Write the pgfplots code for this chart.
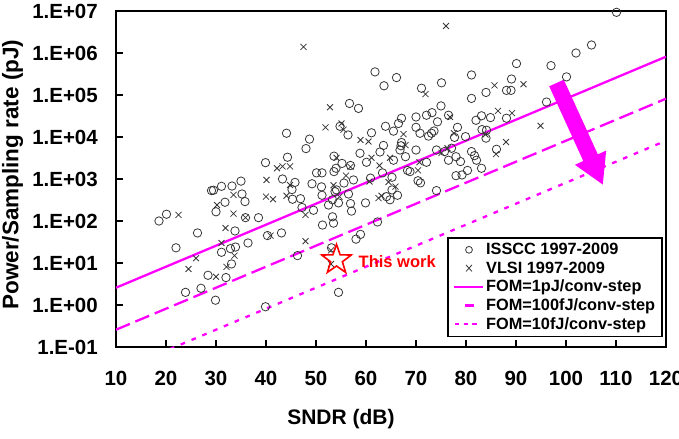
\documentclass[border=0pt]{standalone}
\usepackage{fontspec}
\setmainfont{Liberation Sans}
\usepackage{pgfplots}
\usepackage{pgfplotstable}
\pgfplotsset{compat=1.18}
\usetikzlibrary{arrows.meta}

\definecolor{fom}{RGB}{255,0,255}
\definecolor{mk}{RGB}{55,55,55}

% five-pointed outline star used for "This work"
\pgfdeclareplotmark{fivestar}{%
  \pgfpathmoveto{\pgfpointpolar{90}{\pgfplotmarksize}}%
  \pgfpathlineto{\pgfpointpolar{126}{0.40\pgfplotmarksize}}%
  \pgfpathlineto{\pgfpointpolar{162}{\pgfplotmarksize}}%
  \pgfpathlineto{\pgfpointpolar{198}{0.40\pgfplotmarksize}}%
  \pgfpathlineto{\pgfpointpolar{234}{\pgfplotmarksize}}%
  \pgfpathlineto{\pgfpointpolar{270}{0.40\pgfplotmarksize}}%
  \pgfpathlineto{\pgfpointpolar{306}{\pgfplotmarksize}}%
  \pgfpathlineto{\pgfpointpolar{342}{0.40\pgfplotmarksize}}%
  \pgfpathlineto{\pgfpointpolar{18}{\pgfplotmarksize}}%
  \pgfpathlineto{\pgfpointpolar{54}{0.40\pgfplotmarksize}}%
  \pgfpathclose\pgfusepathqstroke}

% ISSCC 1997-2009: SNDR (dB), power/sampling rate (pJ)
\pgfplotstableread{
sndr energy
18.6 100
20.1 145
26.3 52
22.0 23
23.9 2.0
27.0 2.5
28.4 5.1
29.9 1.3
32.0 4.5
31.1 18
32.9 22
33.1 9.5
33.9 24
33.8 58
36.4 30
35.9 120
38.5 120
39.9 0.91
40.3 45
43.1 52
46.3 15
30.0 166
31.8 280
35.8 290
45.3 330
44.1 12300
39.9 2450
44.3 3300
43.3 1000
45.8 830
29.5 540
29.1 530
31.1 670
33.2 680
35.0 890
35.2 440
45.2 560
48.7 8900
48.0 5300
53.6 3500
54.0 1800
50.1 1400
51.2 1400
49.2 770
46.9 340
51.1 650
51.2 410
47.2 210
49.5 180
52.5 240
53.8 500
51.3 80
53.5 89
56.7 63000
58.5 48000
75.0 55000
76.5 33000
73.2 38000
72.1 33000
70.0 30000
67.1 28000
66.5 21000
63.9 18000
65.5 13800
61.1 12600
56.4 11200
54.8 18000
70.0 17000
74.3 23000
73.1 12300
73.6 13900
70.8 12300
72.5 10500
78.3 17000
67.1 7400
67.0 6200
66.8 4900
63.5 6300
62.8 4400
58.8 4100
55.2 2350
56.9 2100
60.1 2500
65.5 2800
67.9 3400
70.0 4900
72.1 2500
74.1 4900
75.7 4500
76.5 2800
78.0 3400
78.9 2600
68.3 1600
70.4 910
70.9 810
65.2 1100
63.3 1400
60.9 1050
57.5 950
53.6 1500
54.1 550
55.6 800
56.5 440
56.9 260
53.3 320
53.3 126
59.9 270
65.2 550
64.1 380
64.8 320
66.3 410
68.8 1500
78.0 1200
79.2 1250
80.3 1600
74.1 530
62.3 95
61.8 355000
63.6 166000
66.1 260000
75.1 195000
71.1 145000
81.1 300000
81.1 83000
110.1 9300000
105.1 1550000
102.0 1000000
97.0 500000
100.1 270000
90.1 560000
84.0 115000
88.1 129000
89.1 240000
89.0 129000
96.1 68000
82.0 25000
83.1 32000
84.9 29000
88.1 28000
84.1 14500
83.2 15000
84.0 9400
81.1 4500
81.7 3600
82.1 2800
83.1 1800
86.1 5100
77.7 9800
79.9 10200
77.1 5400
54.5 270
57.1 172
58.9 48
58.0 37
53.1 23
54.5 2.0
}\isscc

% VLSI 1997-2009
\pgfplotstableread{
sndr energy
22.5 140
26.0 13
24.5 7.2
30.0 4.7
31.9 68
31.1 30
32.1 8.1
33.7 15
33.5 150
30.2 240
40.9 45
40.0 380
41.4 330
35.9 120
42.2 1800
43.3 2000
44.8 2000
40.1 950
44.1 400
44.8 720
33.5 420
51.9 17000
47.9 140
47.9 33
71.9 105000
52.8 51000
55.1 21000
55.5 15000
58.9 8500
60.5 7800
61.1 3200
54.1 3200
56.9 1950
64.8 3200
67.5 11700
67.9 6400
70.7 2500
70.4 1600
76.3 5400
75.1 4200
62.7 2100
63.1 400
62.5 350
65.9 660
64.5 850
60.7 870
56.0 1200
54.7 380
53.5 710
47.5 1400000
76.0 4400000
85.7 170000
91.5 180000
86.4 42000
89.2 37000
83.9 11500
88.0 7600
86.0 3900
94.9 18500
76.8 30000
77.6 12300
53.0 20
53.0 9.5
}\vlsi

\begin{document}
\begin{tikzpicture}
\begin{axis}[
  scale only axis, width=550bp, height=336bp,
  xmin=10, xmax=120, ymin=0.1, ymax=1e7, ymode=log,
  xtick={10,20,30,40,50,60,70,80,90,100,110,120},
  xticklabels={10,20,30,40,50,60,70,80,90,100,110,120},
  ytick={1e-1,1e0,1e1,1e2,1e3,1e4,1e5,1e6,1e7},
  yticklabels={1.E-01,1.E+00,1.E+01,1.E+02,1.E+03,1.E+04,1.E+05,1.E+06,1.E+07},
  yminorticks=false, xminorticks=false,
  tick align=inside, tick pos=left, major tick length=7bp,
  every tick/.style={black, line width=1.5bp},
  axis line style={black, line width=1.8bp},
  xticklabel style={font=\fontsize{20.5bp}{24bp}\selectfont\bfseries, anchor=north, inner sep=0pt, yshift=-24bp},
  yticklabel style={font=\fontsize{20.5bp}{24bp}\selectfont\bfseries, anchor=east, inner sep=0pt, xshift=-18bp},
  xlabel={SNDR (dB)},
  xlabel style={at={(axis description cs:0.409,-0.213)}, anchor=center, font=\fontsize{21bp}{24bp}\selectfont\bfseries},
  ylabel={Power/Sampling rate (pJ)},
  ylabel style={at={(axis description cs:-0.188,0.513)}, anchor=center, font=\fontsize{22.5bp}{25bp}\selectfont\bfseries},
  legend cell align=left,
  legend style={at={(axis description cs:0.602,0.327)}, anchor=north west,
    draw=black, line width=1.5bp, fill=white,
    font=\fontsize{16.3bp}{19bp}\selectfont\bfseries,
    inner xsep=5bp, inner ysep=3.5bp, row sep=1.5bp},
]
\addplot[only marks, mark=o, mark size=4.2bp, mk, mark options={line width=0.8bp},
  legend image code/.code={\draw[mk, line width=0.8bp] (15bp,0bp) circle (3.4bp); \path (0bp,0bp) (29bp,0bp);}]
  table[x=sndr, y=energy] {\isscc};
\addlegendentry{ISSCC 1997-2009}
\addplot[only marks, mark=x, mark size=4.2bp, mk, mark options={line width=0.8bp},
  legend image code/.code={\draw[mk, line width=0.8bp] (12bp,-3.3bp) -- (18bp,3.3bp) (12bp,3.3bp) -- (18bp,-3.3bp); \path (0bp,0bp) (29bp,0bp);}]
  table[x=sndr, y=energy] {\vlsi};
\addlegendentry{VLSI 1997-2009}
\addplot[fom, line width=2.3bp,
  legend image code/.code={\draw[fom, line width=2.3bp] (0bp,0bp) -- (29bp,0bp);}]
  coordinates {(10,2.58) (120,817000)};
\addlegendentry{FOM=1pJ/conv-step}
\addplot[fom, line width=2.3bp, dash pattern=on 15bp off 6bp,
  legend image code/.code={\draw[fom, solid, line width=2.3bp] (11bp,0bp) -- (19.5bp,0bp); \path (0bp,0bp) (29bp,0bp);}]
  coordinates {(10,0.258) (120,81700)};
\addlegendentry{FOM=100fJ/conv-step}
\addplot[fom, line width=2.3bp, dash pattern=on 4.7bp off 7bp,
  legend image code/.code={\draw[fom, solid, line width=2.3bp] (1bp,0bp) -- (5.3bp,0bp) (10bp,0bp) -- (14.3bp,0bp) (18.3bp,0bp) -- (22.7bp,0bp); \path (0bp,0bp) (29bp,0bp);}]
  coordinates {(10,0.0258) (120,8170)};
\addlegendentry{FOM=10fJ/conv-step}

% this design
\addplot[forget plot, only marks, mark=fivestar, mark size=15.5bp, red, mark options={line width=1.6bp}]
  coordinates {(54.1,11.9)};
\node[anchor=west, text=red, inner sep=0pt, font=\fontsize{16.5bp}{19bp}\selectfont\bfseries]
  at (axis cs:58.5,11.0) {This work};

% direction of improving FOM
\draw[fom, line width=16bp, -{Triangle[length=30bp, width=32bp]}]
  (axis cs:98.1,193000) -- (axis cs:107.4,720);
\end{axis}
% page frame: 679 x 439 around the plot area
\pgfresetboundingbox
\useasboundingbox (-116bp,-92bp) rectangle (563bp,347bp);
\end{tikzpicture}
\end{document}
